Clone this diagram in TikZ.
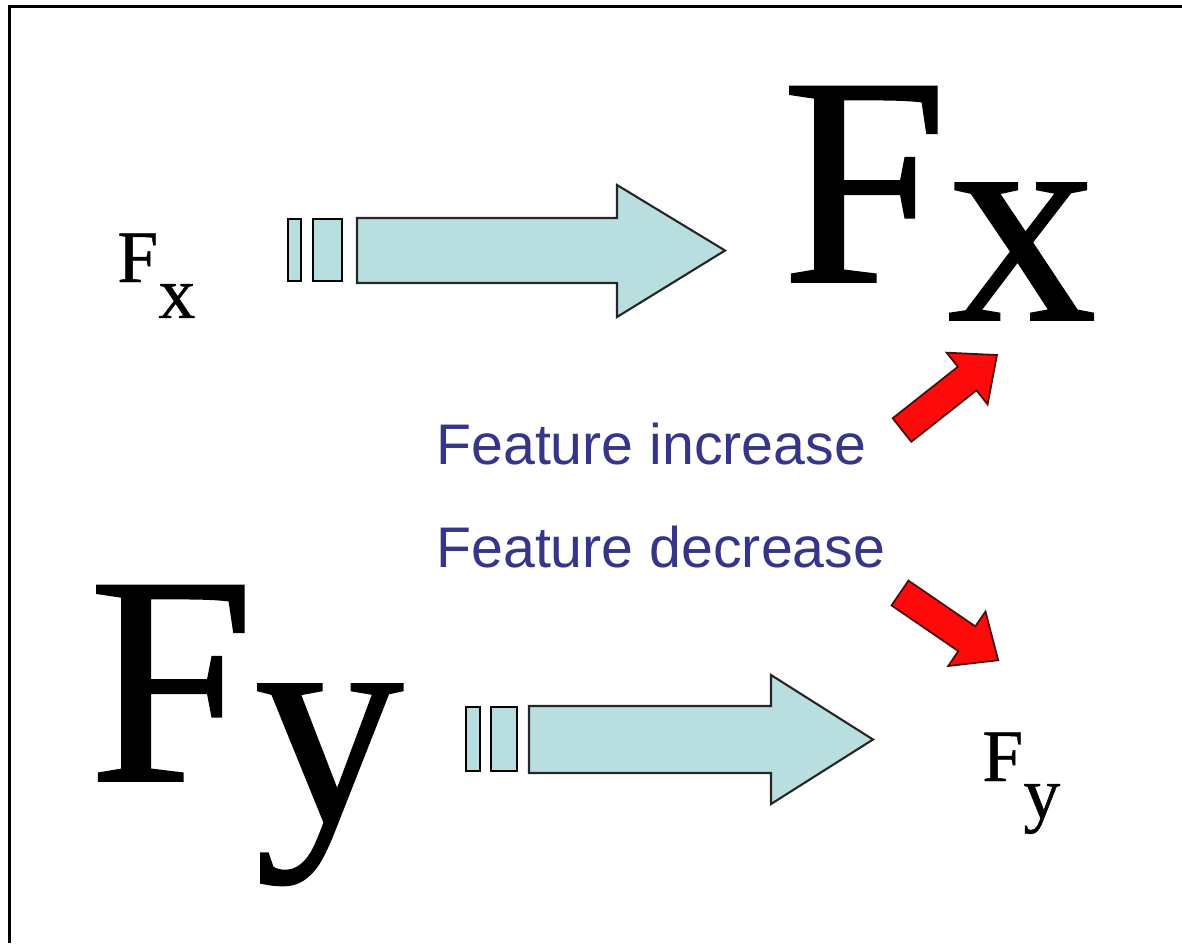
\documentclass[tikz,border=0pt]{standalone}
\usepackage{fontspec}
\setmainfont{Liberation Serif}
\newfontfamily\letterfont[FakeBold=0.6]{Liberation Serif}
\newfontfamily\featurefont{Liberation Sans}
\usetikzlibrary{positioning}
\definecolor{paleblue}{HTML}{B8DEE0}
\definecolor{featblue}{HTML}{35358A}
\definecolor{redfill}{HTML}{FF0A0A}
\definecolor{redline}{HTML}{4A0A0A}

\begin{document}
\begin{tikzpicture}[x=0.02cm, y=-0.02cm,
  bigletter/.style={inner sep=0pt, anchor=base west, font=\letterfont\fontsize{170}{170}\selectfont},
  smallletter/.style={inner sep=0pt, anchor=base west, font=\letterfont\fontsize{42}{42}\selectfont},
  feature/.style={inner sep=0pt, anchor=base west, text=featblue, font=\featurefont\fontsize{32.6}{32.6}\selectfont},
  blockarrow/.style={draw=black!85, line width=1.2pt, fill=paleblue, line join=miter},
  bar/.style={draw=black, line width=1.2pt, fill=paleblue},
  redarrow/.style={draw=redline, line width=1pt, fill=redfill, line join=miter}
]
\useasboundingbox (0,0) rectangle (1182,943);
% frame (left and top only)
\draw[line width=1.7pt] (9.5,943) -- (9.5,6.5) -- (1182,6.5);

% letters
\node[smallletter] (fxsmall) at (117,282) {F\raisebox{-0.72cm}{x}};
\node[bigletter] (fxbig) at (781,282) {F\raisebox{-0.76cm}{x}};
\node[bigletter] (fybig) at (88,781) {F\raisebox{-0.8cm}{y}};
\node[smallletter] (fysmall) at (982,781) {F\raisebox{-0.74cm}{y}};

% feature labels
\node[feature] (incr) at (436,464) {Feature increase};
\node[feature] (decr) at (436,567) {Feature decrease};

% top block arrow
\draw[bar] (288,219) rectangle (301,281);
\draw[bar] (313,219) rectangle (342,281);
\draw[blockarrow] (357,218) -- (617,218) -- (617,185) -- (725,250.5)
  -- (617,317) -- (617,283) -- (357,283) -- cycle;

% bottom block arrow
\draw[bar] (466,707) rectangle (480,771);
\draw[bar] (491,707) rectangle (517,771);
\draw[blockarrow] (529,706) -- (771,706) -- (771,675) -- (873,739.5)
  -- (771,804) -- (771,773) -- (529,773) -- cycle;

% red arrows
\begin{scope}[shift={(902,430)}, rotate=38.3]
  \draw[redarrow] (0,-15) -- (83,-15) -- (83,-33) -- (121,0) -- (83,33) -- (83,15) -- (0,15) -- cycle;
\end{scope}
\begin{scope}[shift={(900,593)}, rotate=-34.4]
  \draw[redarrow] (0,-15) -- (81,-15) -- (81,-33) -- (119,0) -- (81,33) -- (81,15) -- (0,15) -- cycle;
\end{scope}
\end{tikzpicture}
\end{document}
